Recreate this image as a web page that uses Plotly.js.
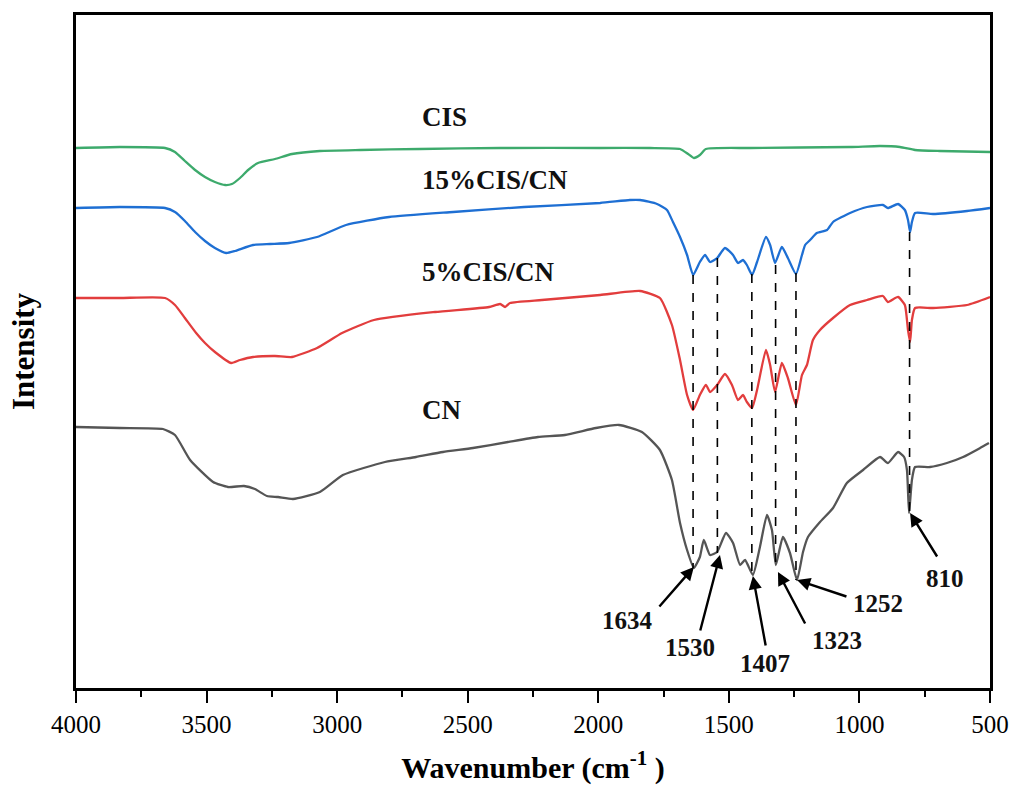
<!DOCTYPE html>
<html>
<head>
<meta charset="utf-8">
<script src="https://cdn.plot.ly/plotly-3.0.1.min.js"></script>
<style>html,body{margin:0;padding:0;background:#fff;}#chart{width:1014px;height:794px;}</style>
</head>
<body>
<div id="chart"></div>
<script>
// Wavenumber (cm-1) and intensity (a.u., offset stacked)
const cisX = [4000,3832,3659,3621,3583,3544,3506,3468,3429,3403,3372,3341,3303,3238,3173,3066,2912,2683,2376,1993,1802,1687,1656,1634,1611,1588,1419,1036,921,845,787,692,500];
const cisY = [540,541,540,536,527,518,511,506,503,504,510,518,525,529,534,537,538,539,540,540,540,539,534,530,533,539,540,541,542,541,538,537,536];

const cis15X = [4000,3832,3659,3621,3583,3544,3506,3468,3425,3391,3322,3257,3184,3077,2966,2801,2556,2284,1993,1879,1840,1775,1737,1714,1687,1660,1637,1611,1591,1572,1545,1515,1484,1465,1446,1431,1411,1392,1358,1342,1323,1297,1274,1243,1220,1208,1189,1163,1124,1101,1036,971,910,891,852,826,814,806,799,787,718,588,500];
const cis15Y = [480,481,480,476,467,456,447,440,435,437,443,444,445,451,463,471,476,481,485,488,488,484,478,466,451,433,413,426,433,426,430,440,433,425,428,423,413,426,451,443,425,441,430,414,433,443,448,455,458,466,475,481,483,480,484,478,468,456,466,475,474,477,480];

const cis5X = [4000,3832,3659,3621,3583,3540,3506,3468,3406,3372,3322,3238,3173,3077,2981,2859,2625,2418,2376,2357,2338,2216,1993,1840,1764,1718,1687,1660,1637,1611,1588,1572,1545,1515,1488,1465,1446,1431,1411,1392,1358,1342,1323,1297,1274,1243,1220,1201,1178,1151,1101,1036,971,910,891,852,826,814,806,799,787,718,588,500];
const cis5Y = [390,390,390,383,370,355,345,336,325,328,331,332,331,340,355,368,376,381,384,381,385,388,393,397,390,363,328,293,278,293,303,296,303,314,303,288,293,286,280,298,338,323,296,325,310,283,313,323,348,358,370,383,388,392,386,391,383,358,346,368,380,380,383,391];

const cnX = [4000,3832,3667,3621,3563,3475,3418,3357,3315,3269,3226,3169,3066,2978,2817,2698,2595,2480,2346,2231,2128,2009,1921,1833,1764,1718,1687,1660,1634,1611,1596,1572,1545,1511,1484,1457,1438,1408,1381,1354,1335,1320,1293,1266,1239,1216,1197,1151,1101,1048,986,921,891,852,829,818,810,799,787,730,665,603,538,504];
const cnY = [261,260,259,253,228,206,201,202,199,192,191,189,196,213,226,231,236,240,246,251,253,260,263,256,238,208,165,138,120,131,148,133,136,155,145,123,128,113,141,173,158,123,151,135,108,136,151,166,180,205,218,231,225,236,231,218,175,208,221,221,225,231,240,245];

const seriesNames = ["CIS","15%CIS/CN","5%CIS/CN","CN"];
const seriesColors = ["#3daa6c","#1e6fd3","#e23d3d","#555555"];
const nameX = [2683,2683,2683,2683];
const nameY = [571,508,416,278];

// Dashed guide lines: peak position, upper and lower ends
const peakX = [1637,1544,1412,1321,1243,808];
const peakTop = [413,430,414,423,415,456];
const peakBottom = [120,135,112,120,108,175];

// Peak labels with arrows
const peakLabels = ["1634","1530","1407","1323","1252","810"];
const labelX = [1890,1649,1362,1086,929,672];
const labelY = [68,41,25,48,85,110];
const tipX = [1634,1534,1408,1312,1239,806];
const tipY = [121,133,112,116,108,175];
const tailX = [1771,1611,1358,1205,1044,699];
const tailY = [80,56,41,63,91,130];

const tickVals = [4000,3500,3000,2500,2000,1500,1000,500];
const tickText = ["4000","3500","3000","2500","2000","1500","1000","500"];

const FONT = "Liberation Serif, Times New Roman, serif";

const xs = [cisX, cis15X, cis5X, cnX];
const ys = [cisY, cis15Y, cis5Y, cnY];
const traces = xs.map((x,i)=>({
  x: x, y: ys[i], type: 'scatter', mode: 'lines', name: seriesNames[i],
  line: {color: seriesColors[i], width: 2.3, shape: 'spline', smoothing: 0.5}, hoverinfo: 'skip'
}));

const shapes = peakX.map((px,i)=>({
  type: 'line', xref: 'x', yref: 'y', x0: px, x1: px, y0: peakTop[i], y1: peakBottom[i],
  line: {color: '#000', width: 1.6, dash: 'dash'}, layer: 'above'
}));

const annotations = [];
seriesNames.forEach((n,i)=>annotations.push({
  x: nameX[i], y: nameY[i], xref: 'x', yref: 'y', text: '<b>'+n+'</b>', showarrow: false,
  xanchor: 'left', yanchor: 'middle', font: {family: FONT, size: 27, color: '#111'}
}));
peakLabels.forEach((t,i)=>{
  annotations.push({
    x: tipX[i], y: tipY[i], xref: 'x', yref: 'y', ax: tailX[i], ay: tailY[i], axref: 'x', ayref: 'y',
    text: '', showarrow: true, arrowhead: 2, arrowsize: 1.1, arrowwidth: 2.4, arrowcolor: '#000', standoff: 0
  });
  annotations.push({
    x: labelX[i], y: labelY[i], xref: 'x', yref: 'y', text: '<b>'+t+'</b>', showarrow: false,
    xanchor: 'center', yanchor: 'middle', font: {family: FONT, size: 25, color: '#111'}
  });
});

const layout = {
  width: 1014, height: 794,
  margin: {l: 76, r: 24, t: 15, b: 106},
  paper_bgcolor: '#fff', plot_bgcolor: '#fff',
  showlegend: false,
  font: {family: FONT, color: '#000'},
  xaxis: {
    range: [4000, 500], tickvals: tickVals, ticktext: tickText,
    ticks: 'outside', ticklen: 12, tickwidth: 2, tickcolor: '#000',
    minor: {dtick: 250, tick0: 500, ticks: 'outside', ticklen: 6, tickwidth: 2, tickcolor: '#000', showgrid: false},
    showgrid: false, zeroline: false, showline: true, linecolor: '#000', linewidth: 3, mirror: true,
    tickfont: {family: FONT, size: 25, color: '#000'},
    title: {text: '<b>Wavenumber (cm<sup>-1</sup> )</b>', font: {family: FONT, size: 30, color: '#000'}, standoff: 20}
  },
  yaxis: {
    range: [0, 673], showticklabels: false, ticks: '', showgrid: false, zeroline: false,
    showline: true, linecolor: '#000', linewidth: 3, mirror: true,
    title: {text: '<b>Intensity</b>', font: {family: FONT, size: 31, color: '#000'}, standoff: 30}
  },
  shapes: shapes,
  annotations: annotations
};

Plotly.newPlot('chart', traces, layout, {displayModeBar: false, staticPlot: true});
</script>
</body>
</html>
